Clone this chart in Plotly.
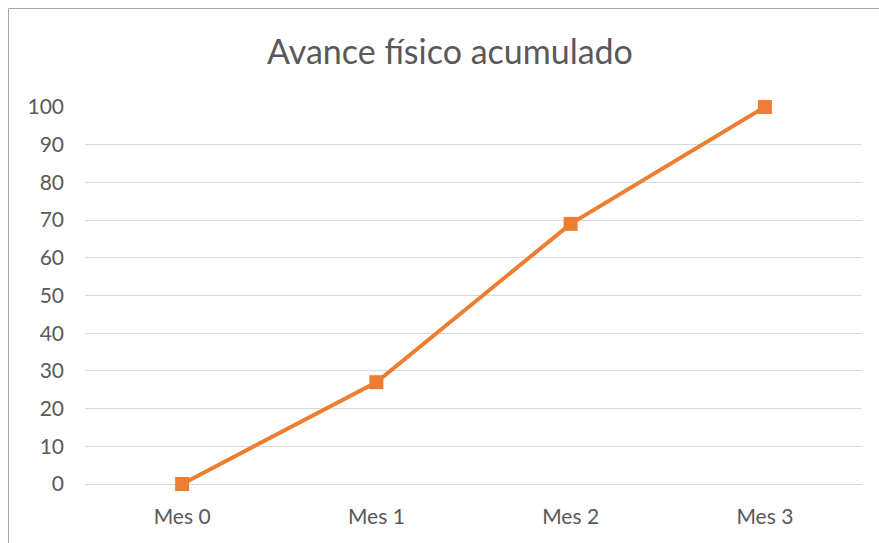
import plotly.graph_objects as go

# Monthly cumulative physical progress (%)
months = ["Mes 0", "Mes 1", "Mes 2", "Mes 3"]
progress = [0, 27, 69, 100]

W, H = 879, 543
L, R, T, B = 85, 17, 107, 59
plot_w = W - L - R
plot_h = H - T - B

fig = go.Figure(
    go.Scatter(
        x=months,
        y=progress,
        mode="lines+markers",
        line=dict(color="#ED7D31", width=4),
        marker=dict(symbol="square", size=14, color="#ED7D31"),
        cliponaxis=False,
        hoverinfo="x+y",
    )
)

# Outer chart frame (left and top edges visible)
fig.add_shape(
    type="rect",
    xref="paper", yref="paper",
    x0=(8.5 - L) / plot_w, x1=(W + 20 - L) / plot_w,
    y0=-(B + 20) / plot_h, y1=(H - B - 8.5) / plot_h,
    line=dict(color="#A6A6A6", width=1),
    fillcolor="rgba(0,0,0,0)",
    layer="below",
)

fig.update_layout(
    width=W, height=H,
    margin=dict(l=L, r=R, t=T, b=B),
    paper_bgcolor="white",
    plot_bgcolor="white",
    showlegend=False,
    font=dict(family="Lato, Calibri, sans-serif", color="#595959"),
    title=dict(
        text="Avance físico acumulado",
        x=450 / W, xanchor="center", xref="container",
        y=1 - 52 / H, yanchor="middle",
        font=dict(size=34, color="#595959"),
    ),
    xaxis=dict(
        type="category",
        range=[-0.5, 3.5],
        showgrid=False,
        showline=False,
        zeroline=False,
        ticks="",
        ticklabelstandoff=18,
        tickfont=dict(size=21, color="#595959"),
        fixedrange=True,
    ),
    yaxis=dict(
        range=[0, 100],
        dtick=10,
        showgrid=True,
        gridcolor="#D9D9D9",
        gridwidth=1,
        zeroline=True,
        zerolinecolor="#D9D9D9",
        zerolinewidth=1,
        showline=False,
        ticks="",
        ticklabelstandoff=20,
        tickfont=dict(size=21, color="#595959"),
        fixedrange=True,
    ),
)

fig.write_html("out.html")
